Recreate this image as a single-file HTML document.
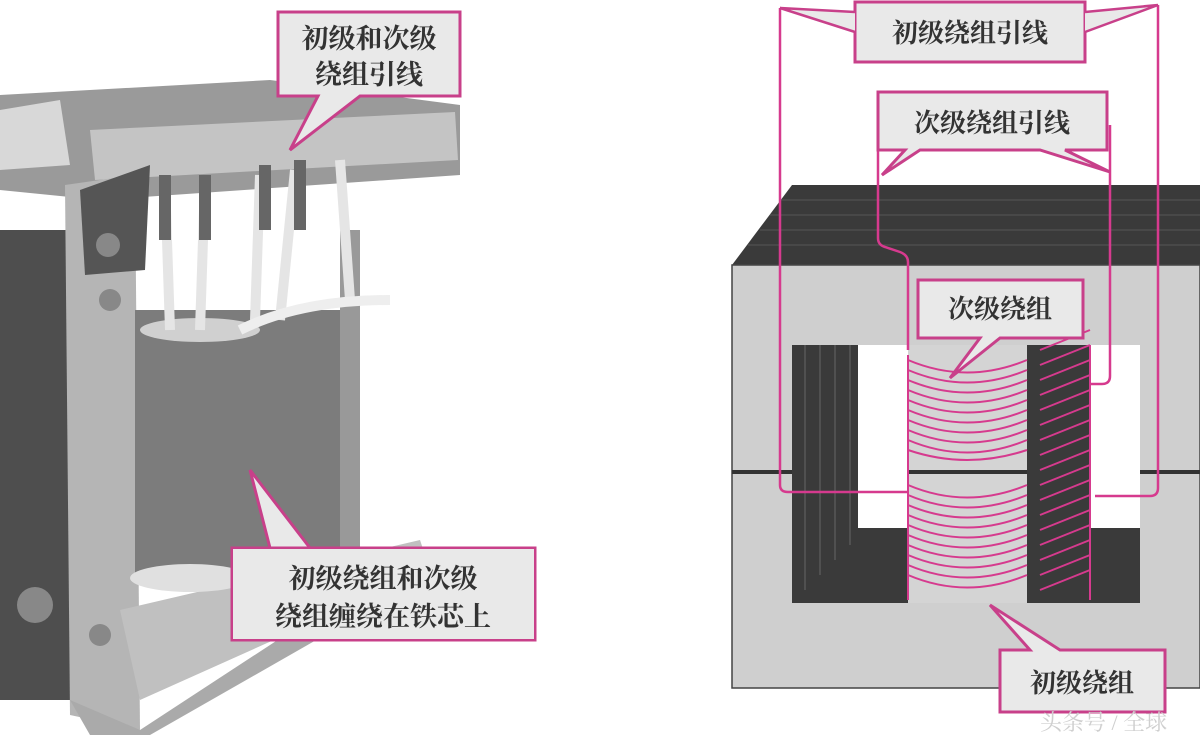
<!DOCTYPE html>
<html><head><meta charset="utf-8"><style>
html,body{margin:0;padding:0;background:#fff;width:1200px;height:740px;overflow:hidden}
svg text{font-family:"Liberation Serif","Noto Serif CJK SC",serif;fill:#333;font-weight:bold}
</style></head><body>
<svg width="1200" height="740" viewBox="0 0 1200 740" xmlns="http://www.w3.org/2000/svg">
<rect width="1200" height="740" fill="#fff"/>
<polygon points="0,95 270,80 460,105 460,175 100,200 0,190" fill="#9a9a9a"/>
<polygon points="90,130 455,112 458,160 95,180" fill="#c4c4c4"/>
<polygon points="0,110 60,100 70,165 0,170" fill="#d8d8d8"/>
<rect x="0" y="230" width="70" height="470" fill="#4e4e4e"/>
<polygon points="65,185 135,175 140,730 70,715" fill="#b5b5b5"/>
<polygon points="80,190 150,165 145,270 85,275" fill="#555"/>
<polygon points="70,700 140,730 400,560 430,575 150,735 90,735" fill="#aaa"/>
<polygon points="120,610 420,540 430,570 140,700" fill="#c0c0c0"/>
<rect x="135" y="310" width="225" height="270" fill="#7c7c7c"/>
<rect x="340" y="230" width="20" height="340" fill="#999"/>
<ellipse cx="190" cy="578" rx="60" ry="14" fill="#e0e0e0"/>
<ellipse cx="200" cy="330" rx="60" ry="12" fill="#d0d0d0"/>
<path d="M165,180 L170,330 M205,180 L200,330 M260,175 L255,320 M295,170 L280,320 M340,160 L350,300" stroke="#e5e5e5" stroke-width="10" fill="none"/>
<path d="M165,175 L165,240 M205,175 L205,240 M265,165 L265,230 M300,160 L300,230" stroke="#666" stroke-width="12"/>
<path d="M240,330 Q300,300 390,300" stroke="#eee" stroke-width="10" fill="none"/>
<circle cx="108" cy="245" r="12" fill="#888"/><circle cx="110" cy="300" r="11" fill="#888"/>
<circle cx="35" cy="605" r="18" fill="#888"/><circle cx="100" cy="635" r="11" fill="#888"/>
<polygon points="278,12 460,12 460,96 360,96 290,150 318,96 278,96" fill="#e9e9e9" stroke="#c8408a" stroke-width="3"/>
<text x="369" y="48" font-size="27" text-anchor="middle">初级和次级</text>
<text x="369" y="84" font-size="27" text-anchor="middle">绕组引线</text>
<polygon points="232,548 535,548 535,640 232,640 232,548 310,548 250,470 270,548" fill="#e9e9e9" stroke="#c8408a" stroke-width="3"/>
<rect x="233" y="549" width="301" height="90" fill="#e9e9e9"/>
<text x="383" y="588" font-size="27" text-anchor="middle">初级绕组和次级</text>
<text x="383" y="626" font-size="27" text-anchor="middle">绕组缠绕在铁芯上</text>

<polygon points="732,265 792,185 1200,185 1200,265" fill="#3a3a3a"/>
<g stroke="#555" stroke-width="1">
<line x1="780" y1="200" x2="1200" y2="200"/><line x1="770" y1="215" x2="1200" y2="215"/><line x1="760" y1="230" x2="1200" y2="230"/><line x1="748" y1="245" x2="1200" y2="245"/>
</g>
<rect x="732" y="265" width="468" height="423" fill="#cfcfcf" stroke="#444" stroke-width="1.5"/>
<line x1="732" y1="472" x2="1200" y2="472" stroke="#333" stroke-width="4"/>
<rect x="792" y="345" width="116" height="258" fill="#fff"/>
<rect x="1027" y="345" width="113" height="258" fill="#fff"/>
<rect x="792" y="345" width="66" height="258" fill="#3a3a3a"/>
<rect x="792" y="528" width="116" height="75" fill="#3a3a3a"/>
<rect x="1027" y="345" width="63" height="258" fill="#3a3a3a"/>
<rect x="1027" y="528" width="113" height="75" fill="#3a3a3a"/>
<g stroke="#666" stroke-width="1"><line x1="805" y1="345" x2="805" y2="590"/><line x1="820" y1="345" x2="820" y2="575"/><line x1="835" y1="345" x2="835" y2="560"/><line x1="850" y1="345" x2="850" y2="545"/></g>
<rect x="908" y="345" width="119" height="258" fill="#d4d4d4"/>
<line x1="908" y1="472" x2="1027" y2="472" stroke="#333" stroke-width="4"/>
<g stroke="#d63a8e" stroke-width="2" fill="none">
<path d="M908,360 Q967,385 1027,360"/><path d="M908,370 Q967,395 1027,370"/><path d="M908,380 Q967,405 1027,380"/><path d="M908,390 Q967,415 1027,390"/><path d="M908,400 Q967,425 1027,400"/><path d="M908,410 Q967,435 1027,410"/><path d="M908,420 Q967,445 1027,420"/><path d="M908,430 Q967,455 1027,430"/><path d="M908,440 Q967,465 1027,440"/><path d="M908,450 Q967,470 1027,450"/>
<path d="M908,485 Q967,510 1027,485"/><path d="M908,495 Q967,520 1027,495"/><path d="M908,505 Q967,530 1027,505"/><path d="M908,515 Q967,540 1027,515"/><path d="M908,525 Q967,550 1027,525"/><path d="M908,535 Q967,560 1027,535"/><path d="M908,545 Q967,570 1027,545"/><path d="M908,555 Q967,580 1027,555"/><path d="M908,565 Q967,590 1027,565"/><path d="M908,575 Q967,600 1027,575"/>
<path d="M1040,350 L1090,330 M1040,365 L1090,345 M1040,380 L1090,360 M1040,395 L1090,375 M1040,410 L1090,390 M1040,425 L1090,405 M1040,440 L1090,420 M1040,455 L1090,435 M1040,470 L1090,450 M1040,485 L1090,465 M1040,500 L1090,480 M1040,515 L1090,495 M1040,530 L1090,510 M1040,545 L1090,525 M1040,560 L1090,540 M1040,575 L1090,555 M1040,590 L1090,570"/>
<line x1="908" y1="355" x2="908" y2="600"/><line x1="1090" y1="345" x2="1090" y2="600"/>
</g>
<g stroke="#d63a8e" stroke-width="2.5" fill="none">
<path d="M780,8 L780,485 Q780,492 788,492 L908,492"/>
<path d="M1158,5 L1158,488 Q1158,496 1150,496 L1095,496"/>
<path d="M878,125 L878,238 Q878,245 885,247 L900,252 Q908,255 908,262 L908,350"/>
<path d="M1110,125 L1110,376 Q1110,384 1102,384 L1090,384"/>
</g>
<rect x="855" y="2" width="230" height="60" fill="#e9e9e9" stroke="#c8408a" stroke-width="3"/>
<path d="M855,12 L780,8 L855,32 M1085,12 L1158,5 L1085,32" stroke="#c8408a" stroke-width="2.5" fill="#e9e9e9"/>
<text x="970" y="42" font-size="26" text-anchor="middle">初级绕组引线</text>
<polygon points="878,92 1107,92 1107,150 1065,150 1110,172 1040,150 920,150 882,175 905,150 878,150" fill="#e9e9e9" stroke="#c8408a" stroke-width="3"/>
<text x="992" y="132" font-size="26" text-anchor="middle">次级绕组引线</text>
<polygon points="918,280 1083,280 1083,338 1000,338 950,378 980,338 918,338" fill="#e9e9e9" stroke="#c8408a" stroke-width="3"/>
<text x="1000" y="318" font-size="26" text-anchor="middle">次级绕组</text>
<polygon points="1000,650 1030,650 990,605 1060,650 1165,650 1165,712 1000,712" fill="#e9e9e9" stroke="#c8408a" stroke-width="3"/>
<text x="1082" y="692" font-size="26" text-anchor="middle">初级绕组</text>
<text x="1040" y="730" font-size="22" style="fill:#cfcfcf;font-weight:normal">头条号 / 全球</text>
</svg>
</body></html>
